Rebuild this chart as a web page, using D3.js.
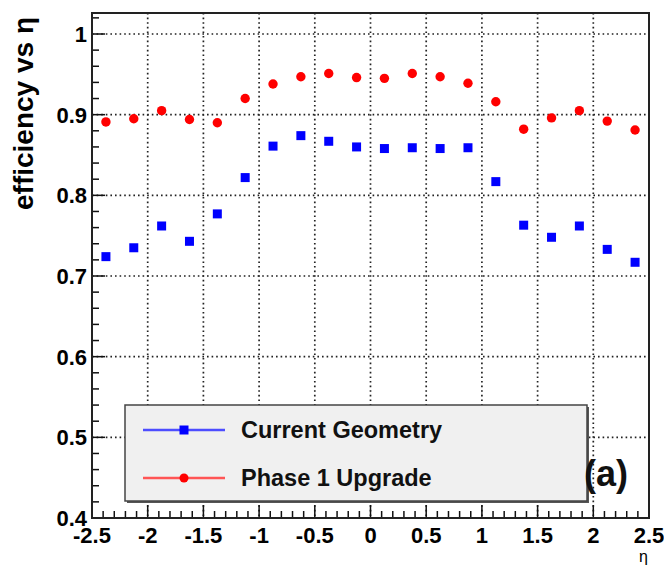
<!DOCTYPE html>
<html><head><meta charset="utf-8">
<script src="https://cdn.jsdelivr.net/npm/d3@7/dist/d3.min.js"></script>
<style>body{margin:0;background:#fff}svg{display:block}</style>
</head><body>
<script>
const etaBins = [-2.375,-2.125,-1.875,-1.625,-1.375,-1.125,-0.875,-0.625,-0.375,-0.125,0.125,0.375,0.625,0.875,1.125,1.375,1.625,1.875,2.125,2.375];
const currentGeometry = [0.724,0.735,0.762,0.743,0.777,0.822,0.861,0.874,0.867,0.860,0.858,0.859,0.858,0.859,0.817,0.763,0.748,0.762,0.733,0.717];
const phase1Upgrade = [0.891,0.895,0.905,0.894,0.890,0.920,0.938,0.947,0.951,0.946,0.945,0.951,0.947,0.939,0.916,0.882,0.896,0.905,0.892,0.881];
const xTicks = [-2.5,-2,-1.5,-1,-0.5,0,0.5,1,1.5,2,2.5];
const xTickLabels = ["-2.5","-2","-1.5","-1","-0.5","0","0.5","1","1.5","2","2.5"];
const yTicks = [0.4,0.5,0.6,0.7,0.8,0.9,1];
const yTickLabels = ["0.4","0.5","0.6","0.7","0.8","0.9","1"];
const seriesNames = ["Current Geometry","Phase 1 Upgrade"];

const W=664,H=566;
const L=92,R=649,T=13,B=518;
const svg=d3.select("body").append("svg").attr("width",W).attr("height",H);
const x=d3.scaleLinear().domain([-2.5,2.5]).range([L,R]);
const y=d3.scaleLinear().domain([0.4,1]).range([B,34]);
const yTop=y.invert(T);
const font="'Liberation Sans', Arial, Helvetica, sans-serif";

// grid
const grid=svg.append("g").attr("stroke","#222").attr("stroke-width",1.7).attr("stroke-dasharray","1.6,3");
grid.selectAll("line.gx").data(xTicks.slice(1,-1)).join("line")
  .attr("x1",d=>x(d)).attr("x2",d=>x(d)).attr("y1",T).attr("y2",B);
grid.selectAll("line.gy").data(yTicks.slice(1)).join("line")
  .attr("y1",d=>y(d)).attr("y2",d=>y(d)).attr("x1",L).attr("x2",R);

// ticks
const minorX=d3.range(-25,26).map(d=>d/10);
const minorY=d3.range(20,52).map(d=>d/50).filter(d=>d<=yTop);
const tk=svg.append("g").attr("stroke","#111").attr("stroke-width",1.5);
tk.selectAll("line.mx").data(minorX).join("line")
  .attr("x1",d=>x(d)).attr("x2",d=>x(d)).attr("y1",B).attr("y2",d=>B-(xTicks.some(t=>Math.abs(t-d)<1e-9)?13:7));
tk.selectAll("line.my").data(minorY).join("line")
  .attr("y1",d=>y(d)).attr("y2",d=>y(d)).attr("x1",L).attr("x2",d=>L+(yTicks.some(t=>Math.abs(t-d)<1e-9)?13:7));

// frame
svg.append("rect").attr("x",L).attr("y",T).attr("width",R-L).attr("height",B-T)
  .attr("fill","none").attr("stroke","#222").attr("stroke-width",2);

// tick labels
svg.append("g").selectAll("text").data(xTicks).join("text")
  .attr("x",d=>x(d)).attr("y",543).attr("text-anchor","middle")
  .attr("font-family",font).attr("font-weight","bold").attr("font-size",22)
  .text((d,i)=>xTickLabels[i]);
svg.append("g").selectAll("text").data(yTicks).join("text")
  .attr("x",87).attr("y",d=>y(d)+8).attr("text-anchor","end")
  .attr("font-family",font).attr("font-weight","bold").attr("font-size",22)
  .text((d,i)=>yTickLabels[i]);

// axis titles
svg.append("text").attr("transform","translate(33,17) rotate(-90)").attr("text-anchor","end")
  .attr("font-family",font).attr("font-weight","bold").attr("font-size",28)
  .text("efficiency vs η");
svg.append("text").attr("x",648).attr("y",562).attr("text-anchor","end")
  .attr("font-family",font).attr("font-size",16).text("η");

// legend
const lg={x:125,y:405,w:462,h:96};
svg.append("rect").attr("x",lg.x+2).attr("y",lg.y+2).attr("width",lg.w).attr("height",lg.h).attr("fill","#555");
svg.append("rect").attr("x",lg.x).attr("y",lg.y).attr("width",lg.w).attr("height",lg.h)
  .attr("fill","#f0f0f0").attr("stroke","#444").attr("stroke-width",1.5);
const entries=[{name:seriesNames[0],color:"#0000ff",line:"#4d4dff",shape:"sq",yy:430},
               {name:seriesNames[1],color:"#ff0000",line:"#ff5555",shape:"ci",yy:478}];
entries.forEach(e=>{
  svg.append("line").attr("x1",143).attr("x2",225).attr("y1",e.yy).attr("y2",e.yy)
    .attr("stroke",e.line).attr("stroke-width",2.5);
  if(e.shape==="sq") svg.append("rect").attr("x",184-4.5).attr("y",e.yy-4.5).attr("width",9).attr("height",9).attr("fill",e.color);
  else svg.append("circle").attr("cx",184).attr("cy",e.yy).attr("r",4.5).attr("fill",e.color);
  svg.append("text").attr("x",241).attr("y",e.yy+8).attr("font-family",font).attr("font-weight","bold")
    .attr("font-size",23.5).attr("fill","#111").text(e.name);
});

// data
svg.append("g").selectAll("rect").data(currentGeometry).join("rect")
  .attr("x",(d,i)=>x(etaBins[i])-4.5).attr("y",d=>y(d)-4.5).attr("width",9).attr("height",9).attr("fill","#0000ff");
svg.append("g").selectAll("circle").data(phase1Upgrade).join("circle")
  .attr("cx",(d,i)=>x(etaBins[i])).attr("cy",d=>y(d)).attr("r",4.7).attr("fill","#ff0000");

// label
svg.append("text").attr("x",584).attr("y",486).attr("font-family",font).attr("font-weight","bold")
  .attr("font-size",36).attr("fill","#111").text("(a)");
</script>
</body></html>
